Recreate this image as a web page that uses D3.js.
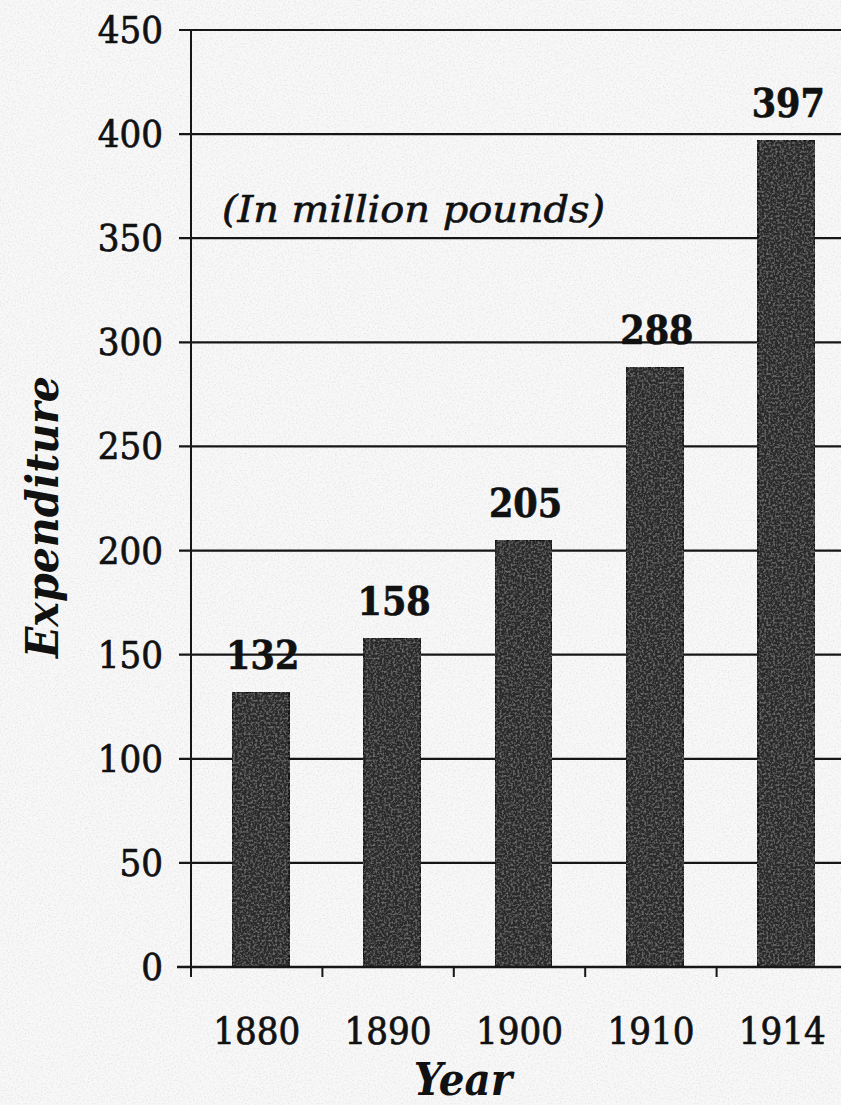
<!DOCTYPE html>
<html>
<head>
<meta charset="utf-8">
<script src="https://cdnjs.cloudflare.com/ajax/libs/d3/7.8.5/d3.min.js"></script>
<style>
  html, body { margin: 0; padding: 0; background: #f7f7f7; }
  svg { display: block; }
  .tick-label { font-family: "DejaVu Serif Condensed", "DejaVu Serif", serif; font-stretch: condensed; font-size: 38px; fill: #111; stroke: #111; stroke-width: 0.7px; }
  .value-label { font-family: "DejaVu Serif Condensed", "DejaVu Serif", serif; font-stretch: condensed; font-weight: bold; font-size: 39px; fill: #111; stroke: #111; stroke-width: 0.6px; }
  .axis-title { font-family: "DejaVu Serif Condensed", "DejaVu Serif", serif; font-stretch: condensed; font-weight: bold; font-style: italic; font-size: 45px; fill: #111; }
  .note { font-family: "DejaVu Serif Condensed", "DejaVu Serif", serif; font-stretch: condensed; font-style: italic; font-size: 37px; fill: #111; stroke: #111; stroke-width: 0.6px; }
</style>
</head>
<body>
<script>
// chart values
var years = ["1880", "1890", "1900", "1910", "1914"];
var expenditure = [132, 158, 205, 288, 397];
var yTicks = [0, 50, 100, 150, 200, 250, 300, 350, 400, 450];

var width = 841, height = 1105;

var svg = d3.select("body").append("svg")
	.attr("width", width)
	.attr("height", height);

// faint grain for the paper and the bars, like the scanned print
var defs = svg.append("defs");
var grain = defs.append("filter").attr("id", "grain").attr("x", 0).attr("y", 0).attr("width", 1).attr("height", 1);
grain.append("feTurbulence").attr("type", "fractalNoise").attr("baseFrequency", 0.6).attr("numOctaves", 2).attr("seed", 3).attr("result", "noise");
grain.append("feColorMatrix").attr("in", "noise").attr("type", "matrix")
	.attr("values", "0 0 0 0 0.8  0 0 0 0 0.8  0 0 0 0 0.8  0 0 0 -2.5 1.35")
	.attr("result", "dots");
grain.append("feComposite").attr("in", "dots").attr("in2", "SourceGraphic").attr("operator", "in").attr("result", "dots2");
grain.append("feMerge").selectAll("feMergeNode")
	.data(["SourceGraphic", "dots2"]).enter()
	.append("feMergeNode").attr("in", function (d) { return d; });

var barGrain = defs.append("filter").attr("id", "bargrain").attr("x", 0).attr("y", 0).attr("width", 1).attr("height", 1);
barGrain.append("feTurbulence").attr("type", "fractalNoise").attr("baseFrequency", 0.45).attr("numOctaves", 2).attr("seed", 7).attr("result", "noise");
barGrain.append("feColorMatrix").attr("in", "noise").attr("type", "matrix")
	.attr("values", "0 0 0 0 0.4  0 0 0 0 0.4  0 0 0 0 0.4  0 0 0 1.0 -0.45")
	.attr("result", "specks");
barGrain.append("feComposite").attr("in", "specks").attr("in2", "SourceGraphic").attr("operator", "in").attr("result", "specks2");
barGrain.append("feMerge").selectAll("feMergeNode")
	.data(["SourceGraphic", "specks2"]).enter()
	.append("feMergeNode").attr("in", function (d) { return d; });

svg.append("rect")
	.attr("width", width).attr("height", height)
	.attr("fill", "#f8f8f8")
	.attr("filter", "url(#grain)");

var plotLeft = 191, plotRight = 848, plotTop = 30, plotBottom = 967;

var y = d3.scaleLinear().domain([0, 450]).range([plotBottom, plotTop]);
var x = d3.scaleBand().domain(years).range([plotLeft, plotRight]).padding(0);
var barWidth = 57;

// horizontal grid lines (act as the y ticks)
svg.append("g").selectAll("line")
	.data(yTicks).enter()
	.append("line")
	.attr("x1", 179)
	.attr("x2", width)
	.attr("y1", function (d) { return y(d); })
	.attr("y2", function (d) { return y(d); })
	.attr("stroke", "#161616")
	.attr("stroke-width", 2.2);

// y axis labels
svg.append("g").selectAll("text")
	.data(yTicks).enter()
	.append("text")
	.attr("class", "tick-label")
	.attr("x", 163)
	.attr("y", function (d) { return y(d) + 13; })
	.attr("text-anchor", "end")
	.text(function (d) { return d; });

// y axis line
svg.append("line")
	.attr("x1", plotLeft).attr("x2", plotLeft)
	.attr("y1", y(450)).attr("y2", plotBottom + 10)
	.attr("stroke", "#161616")
	.attr("stroke-width", 2);

// bars
svg.append("g").selectAll("rect")
	.data(years).enter()
	.append("rect")
	.attr("x", function (d) { return x(d) + x.bandwidth() / 2 - barWidth / 2 + 4; })
	.attr("width", barWidth)
	.attr("y", function (d, i) { return y(expenditure[i]); })
	.attr("height", function (d, i) { return plotBottom - y(expenditure[i]); })
	.attr("fill", "#2c2c2c")
	.attr("stroke", "#151515")
	.attr("stroke-width", 2)
	.attr("filter", "url(#bargrain)");

// x axis line and ticks between the bars
svg.append("line")
	.attr("x1", 177).attr("x2", width)
	.attr("y1", plotBottom).attr("y2", plotBottom)
	.attr("stroke", "#161616")
	.attr("stroke-width", 2.5);

svg.append("g").selectAll("line")
	.data(years).enter()
	.append("line")
	.attr("x1", function (d) { return x(d); })
	.attr("x2", function (d) { return x(d); })
	.attr("y1", plotBottom)
	.attr("y2", plotBottom + 10)
	.attr("stroke", "#161616")
	.attr("stroke-width", 2);

// x labels
svg.append("g").selectAll("text")
	.data(years).enter()
	.append("text")
	.attr("class", "tick-label")
	.attr("x", function (d) { return x(d) + x.bandwidth() / 2; })
	.attr("y", 1044)
	.attr("text-anchor", "middle")
	.text(function (d) { return d; });

// value labels above bars
svg.append("g").selectAll("text")
	.data(years).enter()
	.append("text")
	.attr("class", "value-label")
	.attr("x", function (d) { return x(d) + x.bandwidth() / 2 + 6; })
	.attr("y", function (d, i) { return y(expenditure[i]) - 23; })
	.attr("text-anchor", "middle")
	.text(function (d, i) { return expenditure[i]; });

// unit note
svg.append("text")
	.attr("class", "note")
	.attr("x", 222)
	.attr("y", 222)
	.attr("textLength", 383)
	.attr("lengthAdjust", "spacingAndGlyphs")
	.text("(In million pounds)");

// axis titles
svg.append("text")
	.attr("class", "axis-title")
	.attr("transform", "translate(58,517) rotate(-90)")
	.attr("text-anchor", "middle")
	.attr("textLength", 282)
	.attr("lengthAdjust", "spacingAndGlyphs")
	.text("Expenditure");

svg.append("text")
	.attr("class", "axis-title")
	.attr("x", 463)
	.attr("y", 1095)
	.attr("text-anchor", "middle")
	.text("Year");
</script>
</body>
</html>
